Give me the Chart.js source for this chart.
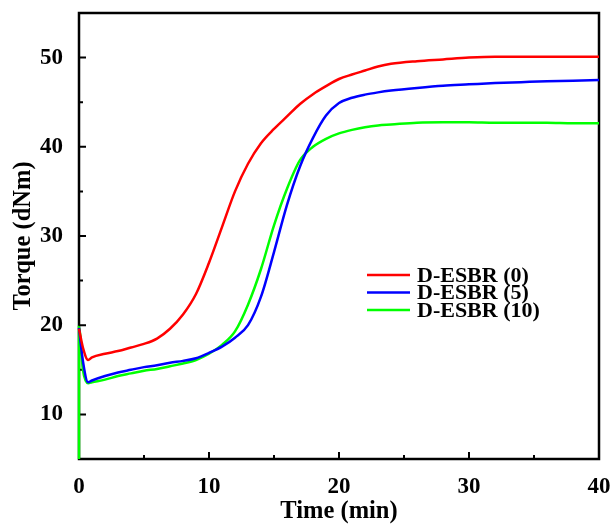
<!DOCTYPE html>
<html>
<head>
<meta charset="utf-8">
<script src="https://cdn.jsdelivr.net/npm/chart.js@4.4.1/dist/chart.umd.min.js"></script>
<style>
    html, body { margin: 0; padding: 0; background: #fff; }
    #wrap { width: 611px; height: 526px; }
</style>
</head>
<body>
<div id="wrap"><canvas id="torque-chart"></canvas></div>
<script>
// time axis (min), first point is the instrument start for D-ESBR (10)
const timeMin = [0, 0, 0.3, 0.7, 1, 2, 3, 4, 5, 6, 7, 8, 9, 10, 11, 12, 13, 14, 15, 16, 17, 18, 19, 20, 21, 22, 23, 24, 26, 28, 30, 32, 34, 36, 38, 40];

const esbr0 = [null, 19.6, 17.5, 16.1, 16.4, 16.8, 17.1, 17.5, 17.9, 18.5, 19.6, 21.2, 23.5, 27.0, 31.0, 35.0, 38.1, 40.4, 42.0, 43.4, 44.8, 45.9, 46.8, 47.6, 48.1, 48.55, 49.0, 49.3, 49.6, 49.8, 50.0, 50.1, 50.1, 50.1, 50.1, 50.1];
const esbr5 = [null, 19.7, 16.0, 13.6, 13.8, 14.3, 14.7, 15.0, 15.3, 15.5, 15.8, 16.0, 16.3, 16.9, 17.6, 18.6, 20.0, 23.2, 28.2, 33.5, 37.8, 41.0, 43.5, 44.9, 45.5, 45.85, 46.1, 46.3, 46.6, 46.85, 47.0, 47.15, 47.25, 47.35, 47.4, 47.5];
const esbr10 = [5, 19.8, 15.0, 13.5, 13.6, 13.9, 14.3, 14.6, 14.9, 15.1, 15.4, 15.7, 16.1, 16.8, 17.8, 19.3, 22.3, 26.3, 31.2, 35.3, 38.5, 40.0, 40.9, 41.5, 41.9, 42.2, 42.4, 42.5, 42.7, 42.75, 42.75, 42.7, 42.7, 42.7, 42.65, 42.65];

const seriesNames = ['D-ESBR (0)', 'D-ESBR (5)', 'D-ESBR (10)'];
const seriesColors = ['#ff0000', '#0000ff', '#00ff00'];

const xTickVals = [0, 10, 20, 30, 40];
const yTickVals = [10, 20, 30, 40, 50];
const xMinorVals = [5, 15, 25, 35];
const yMinorVals = [15, 25, 35, 45];

const serif = "'Liberation Serif', 'Times New Roman', serif";
const tickFont = { family: serif, size: 23, weight: 'bold' };
const titleFont = { family: serif, size: 24.5, weight: 'bold' };

function toPoints(vals) {
    return vals.map((v, i) => ({ x: timeMin[i], y: v }));
}

// box round the plot and inward ticks
const frameTicks = {
    id: 'frameTicks',
    beforeDatasetsDraw(chart) {
        const { ctx, chartArea: a, scales } = chart;
        ctx.save();
        ctx.strokeStyle = '#000';
        ctx.lineWidth = 2.5;
        ctx.strokeRect(a.left, a.top, a.right - a.left, a.bottom - a.top);
        ctx.lineWidth = 2;
        ctx.beginPath();
        const xtick = (vals, len) => {
            vals.forEach(v => {
                const px = scales.x.getPixelForValue(v);
                ctx.moveTo(px, a.bottom);
                ctx.lineTo(px, a.bottom - len);
            });
        };
        const ytick = (vals, len) => {
            vals.forEach(v => {
                const py = scales.y.getPixelForValue(v);
                ctx.moveTo(a.left, py);
                ctx.lineTo(a.left + len, py);
            });
        };
        xtick(xTickVals, 7);
        xtick(xMinorVals, 4);
        ytick(yTickVals, 7);
        ytick(yMinorVals, 4);
        ctx.stroke();
        ctx.restore();
    }
};

// legend inside the plot
const insideLegend = {
    id: 'insideLegend',
    afterDatasetsDraw(chart) {
        const { ctx } = chart;
        const x0 = 367, y0 = 275, len = 43, rowH = 17.5;
        ctx.save();
        ctx.font = 'bold 22px ' + serif;
        ctx.textBaseline = 'middle';
        ctx.fillStyle = '#000';
        chart.data.datasets.forEach((ds, i) => {
            const y = y0 + i * rowH;
            ctx.strokeStyle = ds.borderColor;
            ctx.lineWidth = 2.5;
            ctx.beginPath();
            ctx.moveTo(x0, y);
            ctx.lineTo(x0 + len, y);
            ctx.stroke();
            ctx.fillText(ds.label, x0 + len + 7, y + 1);
        });
        ctx.restore();
    }
};

const ctx = document.getElementById('torque-chart');
new Chart(ctx, {
    type: 'line',
    data: {
        datasets: [esbr0, esbr5, esbr10].map((vals, i) => ({
            label: seriesNames[i],
            data: toPoints(vals),
            borderColor: seriesColors[i],
            backgroundColor: seriesColors[i],
            borderWidth: 2.5,
            pointRadius: 0,
            cubicInterpolationMode: 'monotone',
            spanGaps: true,
            clip: 3,
            fill: false
        }))
    },
    options: {
        responsive: true,
        maintainAspectRatio: false,
        animation: false,
        layout: { padding: { left: 0, right: 12, top: 13, bottom: 0 } },
        scales: {
            x: {
                type: 'linear',
                min: 0,
                max: 40,
                afterBuildTicks: s => { s.ticks = xTickVals.map(v => ({ value: v })); },
                afterFit: s => { s.height = 67; s.paddingLeft = 0; s.paddingRight = 0; },
                grid: { display: false },
                border: { display: false },
                ticks: { color: '#000', font: tickFont, padding: 6, maxRotation: 0 },
                title: { display: true, text: 'Time (min)', color: '#000', font: titleFont, padding: 0 }
            },
            y: {
                min: 5,
                max: 55,
                afterBuildTicks: s => { s.ticks = yTickVals.map(v => ({ value: v })); },
                afterFit: s => { s.width = 79; s.paddingTop = 0; s.paddingBottom = 0; },
                grid: { display: false },
                border: { display: false },
                ticks: { color: '#000', font: tickFont, padding: 8 },
                title: { display: true, text: 'Torque (dNm)', color: '#000', font: titleFont, padding: { top: 9, bottom: 0 } }
            }
        },
        plugins: {
            legend: { display: false },
            tooltip: { enabled: false }
        }
    },
    plugins: [frameTicks, insideLegend]
});
</script>
</body>
</html>
